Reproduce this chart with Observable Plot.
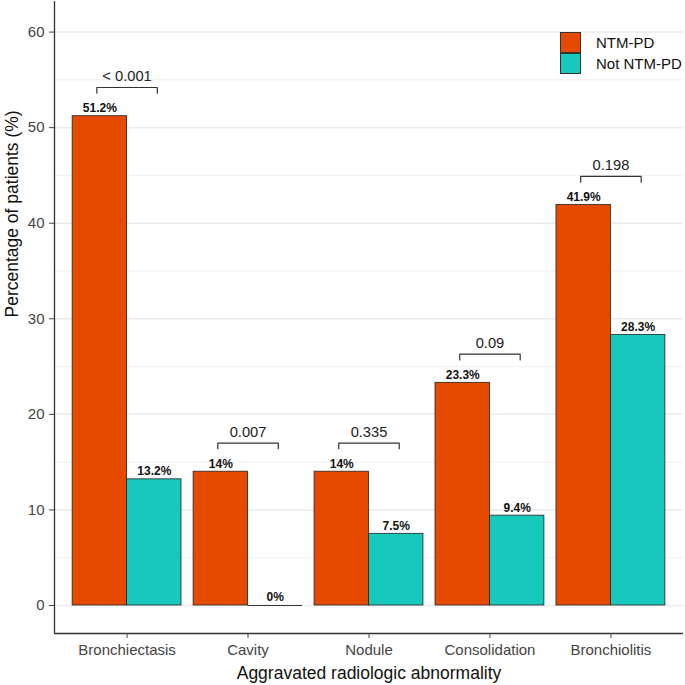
<!DOCTYPE html>
<html>
<head>
<meta charset="utf-8">
<script src="https://cdn.jsdelivr.net/npm/d3@7"></script>
<script src="https://cdn.jsdelivr.net/npm/@observablehq/plot@0.6"></script>
<style>
  html, body { margin: 0; padding: 0; background: #fff; }
  #wrap { position: relative; width: 685px; height: 685px; font-family: "Liberation Sans", Arial, sans-serif; }
  #legend { position: absolute; left: 560px; top: 32px; font-size: 15px; color: #111; }
  .item { display: flex; align-items: center; height: 21px; }
  .key { width: 19px; height: 19px; border: 1px solid #333; margin-right: 15px; box-sizing: content-box; }
</style>
</head>
<body>
<div id="wrap"></div>
<script>
const categories = ["Bronchiectasis", "Cavity", "Nodule", "Consolidation", "Bronchiolitis"];
const groups = ["NTM-PD", "Not NTM-PD"];
const ntmPd = [51.2, 14, 14, 23.3, 41.9];
const notNtmPd = [13.2, 0, 7.5, 9.4, 28.3];
const pValues = ["< 0.001", "0.007", "0.335", "0.09", "0.198"];
const colors = ["#e64a00", "#17c8bc"];
const yTicks = [0, 10, 20, 30, 40, 50, 60];
const yMinorTicks = [5, 15, 25, 35, 45, 55];
const xDomain = [-0.6, 4.6];
const yDomain = [-2.93, 63.2];

const groupWidth = 0.9;
const barWidth = groupWidth / 2;
const series = [ntmPd, notNtmPd];
const bars = categories.flatMap((c, i) => groups.map((g, gi) => {
  const x1 = i - groupWidth / 2 + gi * barWidth;
  return { cat: c, group: g, value: series[gi][i], x1, x2: x1 + barWidth, xc: x1 + barWidth / 2 };
}));
const zeroBars = bars.filter(d => d.value === 0);

const bracketHalf = 0.25, bracketGap = 3, bracketDrop = 0.6;
const pLabels = categories.map((c, i) => ({ cat: c, i, p: pValues[i], top: Math.max(ntmPd[i], notNtmPd[i]) + bracketGap }));
const brackets = pLabels.flatMap(d => [
  { cat: d.cat, x: d.i - bracketHalf, y: d.top - bracketDrop },
  { cat: d.cat, x: d.i - bracketHalf, y: d.top },
  { cat: d.cat, x: d.i + bracketHalf, y: d.top },
  { cat: d.cat, x: d.i + bracketHalf, y: d.top - bracketDrop }
]);

const chart = Plot.plot({
  width: 685,
  height: 685,
  marginLeft: 54,
  marginRight: 2,
  marginTop: 1,
  marginBottom: 52,
  style: { fontFamily: "Liberation Sans, Arial, sans-serif", background: "white" },
  x: { domain: xDomain, axis: null },
  y: { domain: yDomain, axis: null },
  color: { domain: groups, range: colors },
  marks: [
    Plot.gridY(yMinorTicks, { stroke: "#ebebeb", strokeOpacity: 1, strokeWidth: 0.8 }),
    Plot.gridY(yTicks, { stroke: "#ebebeb", strokeOpacity: 1, strokeWidth: 1.5 }),
    Plot.rectY(bars, { x1: "x1", x2: "x2", y1: 0, y2: "value", fill: "group", stroke: "#222", strokeWidth: 0.8 }),
    Plot.ruleY(zeroBars, { x1: "x1", x2: "x2", y: "value", stroke: "#333", strokeWidth: 1 }),
    Plot.text(bars, { x: "xc", y: "value", text: d => d.value + "%", dy: -8, fontWeight: "bold", fontSize: 12, fill: "#111" }),
    Plot.line(brackets, { x: "x", y: "y", z: "cat", stroke: "#333", strokeWidth: 1.2 }),
    Plot.text(pLabels, { x: "i", y: "top", text: "p", dy: -11, fontSize: 14.7, fill: "#222" }),
    Plot.ruleX([xDomain[0]], { stroke: "#333", strokeWidth: 1.3 }),
    Plot.ruleY([yDomain[0]], { stroke: "#333", strokeWidth: 1.3 }),
    Plot.axisY({ ticks: yTicks, tickSize: 5, tickPadding: 5, fontSize: 15, color: "#444", label: null }),
    Plot.axisX({ ticks: d3.range(categories.length), tickFormat: i => categories[i], tickSize: 5, tickPadding: 6, fontSize: 15, color: "#444", label: null }),
    Plot.text(["Aggravated radiologic abnormality"], { frameAnchor: "bottom", dy: 45, fontSize: 17.5, fill: "#111" }),
    Plot.text(["Percentage of patients (%)"], { frameAnchor: "left", dx: -42, rotate: -90, fontSize: 17.5, fill: "#111" })
  ]
});

const wrap = document.getElementById("wrap");
wrap.appendChild(chart);
const legend = document.createElement("div");
legend.id = "legend";
groups.forEach((g, gi) => {
  const item = document.createElement("div");
  item.className = "item";
  const key = document.createElement("span");
  key.className = "key";
  key.style.background = colors[gi];
  const label = document.createElement("span");
  label.textContent = g;
  item.appendChild(key);
  item.appendChild(label);
  legend.appendChild(item);
});
wrap.appendChild(legend);
</script>
</body>
</html>
